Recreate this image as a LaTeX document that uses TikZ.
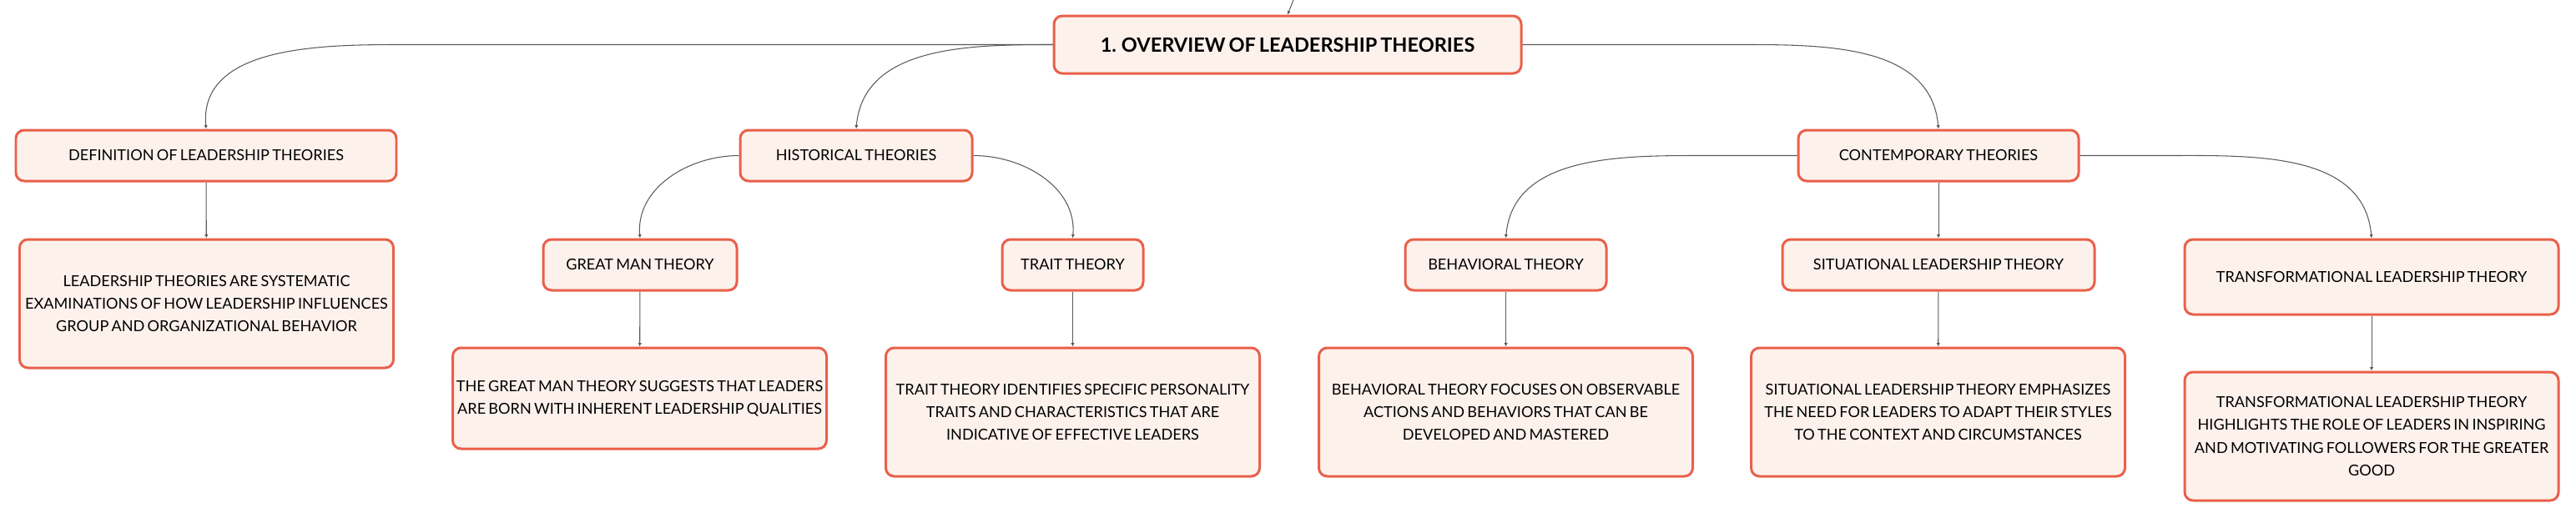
\documentclass[tikz,border=0pt]{standalone}
\usepackage{fontspec}
\setmainfont{Lato}[WordSpace=0.7]
\usetikzlibrary{positioning,arrows.meta}
\definecolor{boxred}{HTML}{E9604A}
\definecolor{boxfill}{HTML}{FDF1EC}
\definecolor{linegray}{HTML}{5A5A5A}

\begin{document}
\begin{tikzpicture}[semithick,
               topic/.style ={rectangle, rounded corners=0.2cm, draw=boxred, line width=1.7pt,
               fill=boxfill, text=black, align=center, inner sep=0pt, minimum height=1.22cm,
               font=\fontsize{10.3pt}{15.4pt}\selectfont},
               desc/.style ={topic, minimum width=8.96cm, minimum height=3.08cm},
               conn/.style ={-{Latex[length=2.5pt,width=2.5pt]}, draw=linegray, line width=0.6pt}]

           \useasboundingbox (0,0) rectangle (61.74,-12.4);

           % main topic and the three branches
           \node[topic, minimum width=11.2cm, minimum height=1.38cm,
                 font=\fontsize{13.4pt}{16pt}\selectfont\bfseries] (root) at (30.86, -1.07) {1. OVERVIEW OF LEADERSHIP THEORIES};
           \node[topic, minimum width=9.12cm] (defi) at (4.94, -3.73) {DEFINITION OF LEADERSHIP THEORIES};
           \node[topic, minimum width=5.56cm] (hist) at (20.52, -3.73) {HISTORICAL THEORIES};
           \node[topic, minimum width=6.72cm] (cont) at (46.46, -3.73) {CONTEMPORARY THEORIES};

           % theories
           \node[topic, minimum width=4.64cm] (gman) at (15.34, -6.35) {GREAT MAN THEORY};
           \node[topic, minimum width=3.38cm] (trait) at (25.71, -6.35) {TRAIT THEORY};
           \node[topic, minimum width=4.82cm] (behav) at (36.09, -6.35) {BEHAVIORAL THEORY};
           \node[topic, minimum width=7.48cm] (situ) at (46.46, -6.35) {SITUATIONAL LEADERSHIP THEORY};
           \node[topic, minimum width=8.96cm, minimum height=1.8cm] (transf) at (56.84, -6.64) {TRANSFORMATIONAL LEADERSHIP THEORY};

           % descriptions
           \node[desc] (defid) at (4.95, -7.28) {LEADERSHIP THEORIES ARE SYSTEMATIC\\EXAMINATIONS OF HOW LEADERSHIP INFLUENCES\\GROUP AND ORGANIZATIONAL BEHAVIOR};
           \node[desc, minimum height=2.42cm] (gmand) at (15.33, -9.55) {THE GREAT MAN THEORY SUGGESTS THAT LEADERS\\ARE BORN WITH INHERENT LEADERSHIP QUALITIES};
           \node[desc] (traitd) at (25.71, -9.88) {TRAIT THEORY IDENTIFIES SPECIFIC PERSONALITY\\TRAITS AND CHARACTERISTICS THAT ARE\\INDICATIVE OF EFFECTIVE LEADERS};
           \node[desc] (behavd) at (36.09, -9.88) {BEHAVIORAL THEORY FOCUSES ON OBSERVABLE\\ACTIONS AND BEHAVIORS THAT CAN BE\\DEVELOPED AND MASTERED};
           \node[desc] (situd) at (46.45, -9.88) {SITUATIONAL LEADERSHIP THEORY EMPHASIZES\\THE NEED FOR LEADERS TO ADAPT THEIR STYLES\\TO THE CONTEXT AND CIRCUMSTANCES};
           \node[desc] (transd) at (56.84, -10.46) {TRANSFORMATIONAL LEADERSHIP THEORY\\HIGHLIGHTS THE ROLE OF LEADERS IN INSPIRING\\AND MOTIVATING FOLLOWERS FOR THE GREATER\\GOOD};

           \coordinate (up) at (31.0, 0);
           \path (up) edge[conn] (root.north);

           \draw[conn] (root.west) -- ++(-15.7, 0) to[out=180, in=95] (defi.north);
           \path (root.west) edge[conn, out=180, in=85] (hist.north);
           \draw[conn] (root.east) -- ++(5.06, 0) to[out=0, in=95] (cont.north);

           \path (hist.west) edge[conn, out=180, in=95] (gman.north);
           \path (hist.east) edge[conn, out=0, in=85] (trait.north);
           \draw[conn] (cont.west) -- ++(-2.34, 0) to[out=180, in=85] (behav.north);
           \path (cont) edge[conn] (situ);
           \draw[conn] (cont.east) -- ++(2.02, 0) to[out=0, in=95] (transf.north);

           \path (defi) edge[conn] (defid);
           \path (gman) edge[conn] (gmand);
           \path (trait) edge[conn] (traitd);
           \path (behav) edge[conn] (behavd);
           \path (situ) edge[conn] (situd);
           \path (transf) edge[conn] (transd);

       \end{tikzpicture}
\end{document}
